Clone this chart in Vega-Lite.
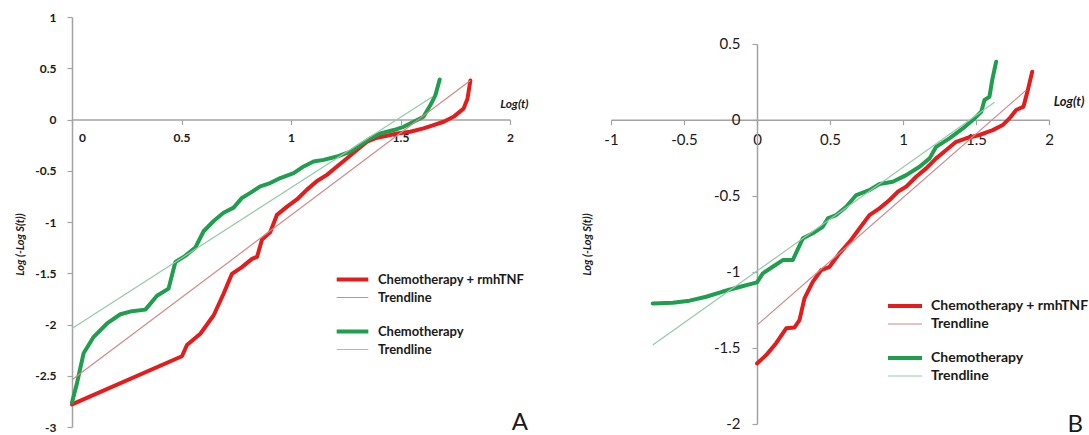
{
  "$schema": "https://vega.github.io/schema/vega-lite/v6.json",
  "padding": {"left": 14, "top": 11, "right": 2, "bottom": 0},
  "bounds": "flush",
  "spacing": 101,
  "resolve": {"scale": {"color": "independent", "x": "independent", "y": "independent"}, "legend": {"color": "independent"}},
  "config": {
    "view": {"stroke": null},
    "font": "Lato",
    "axis": {
      "grid": false,
      "domainColor": "#a3a3a3",
      "tickColor": "#a3a3a3",
      "domainWidth": 1.5,
      "tickWidth": 1.2,
      "tickSize": 5,
      "labelColor": "#1a1a1a",
      "titleColor": "#1a1a1a",
      "labelOverlap": false,
      "labelFlush": false,
      "labelExpr": "'' + datum.value"
    },
    "title": {"color": "#1a1a1a", "font": "Lato"}
  },
  "datasets": {
    "a": [
      {"s": "red", "x": 0, "y": -2.78},
      {"s": "red", "x": 0.502, "y": -2.31},
      {"s": "red", "x": 0.525, "y": -2.2},
      {"s": "red", "x": 0.586, "y": -2.09},
      {"s": "red", "x": 0.647, "y": -1.91},
      {"s": "red", "x": 0.692, "y": -1.7},
      {"s": "red", "x": 0.73, "y": -1.507},
      {"s": "red", "x": 0.776, "y": -1.44},
      {"s": "red", "x": 0.822, "y": -1.36},
      {"s": "red", "x": 0.845, "y": -1.34},
      {"s": "red", "x": 0.868, "y": -1.17},
      {"s": "red", "x": 0.905, "y": -1.1},
      {"s": "red", "x": 0.936, "y": -0.93},
      {"s": "red", "x": 0.982, "y": -0.85},
      {"s": "red", "x": 1.027, "y": -0.78},
      {"s": "red", "x": 1.073, "y": -0.684},
      {"s": "red", "x": 1.119, "y": -0.6},
      {"s": "red", "x": 1.164, "y": -0.54},
      {"s": "red", "x": 1.21, "y": -0.458},
      {"s": "red", "x": 1.256, "y": -0.378},
      {"s": "red", "x": 1.301, "y": -0.297},
      {"s": "red", "x": 1.347, "y": -0.216},
      {"s": "red", "x": 1.393, "y": -0.178},
      {"s": "red", "x": 1.438, "y": -0.158},
      {"s": "red", "x": 1.484, "y": -0.136},
      {"s": "red", "x": 1.545, "y": -0.119},
      {"s": "red", "x": 1.605, "y": -0.087},
      {"s": "red", "x": 1.651, "y": -0.055},
      {"s": "red", "x": 1.697, "y": -0.022},
      {"s": "red", "x": 1.742, "y": 0.026},
      {"s": "red", "x": 1.788, "y": 0.106},
      {"s": "red", "x": 1.806, "y": 0.203},
      {"s": "red", "x": 1.819, "y": 0.38},
      {"s": "green", "x": 0, "y": -2.76},
      {"s": "green", "x": 0.023, "y": -2.57},
      {"s": "green", "x": 0.053, "y": -2.28},
      {"s": "green", "x": 0.099, "y": -2.12},
      {"s": "green", "x": 0.16, "y": -1.99},
      {"s": "green", "x": 0.221, "y": -1.9},
      {"s": "green", "x": 0.274, "y": -1.87},
      {"s": "green", "x": 0.335, "y": -1.855},
      {"s": "green", "x": 0.388, "y": -1.72},
      {"s": "green", "x": 0.441, "y": -1.65},
      {"s": "green", "x": 0.472, "y": -1.39},
      {"s": "green", "x": 0.517, "y": -1.33},
      {"s": "green", "x": 0.563, "y": -1.25},
      {"s": "green", "x": 0.601, "y": -1.09},
      {"s": "green", "x": 0.647, "y": -0.99},
      {"s": "green", "x": 0.692, "y": -0.91},
      {"s": "green", "x": 0.738, "y": -0.86},
      {"s": "green", "x": 0.776, "y": -0.765},
      {"s": "green", "x": 0.814, "y": -0.716},
      {"s": "green", "x": 0.86, "y": -0.652},
      {"s": "green", "x": 0.905, "y": -0.62},
      {"s": "green", "x": 0.951, "y": -0.571},
      {"s": "green", "x": 1.012, "y": -0.523},
      {"s": "green", "x": 1.058, "y": -0.458},
      {"s": "green", "x": 1.103, "y": -0.41},
      {"s": "green", "x": 1.149, "y": -0.394},
      {"s": "green", "x": 1.21, "y": -0.361},
      {"s": "green", "x": 1.271, "y": -0.313},
      {"s": "green", "x": 1.316, "y": -0.249},
      {"s": "green", "x": 1.362, "y": -0.184},
      {"s": "green", "x": 1.408, "y": -0.136},
      {"s": "green", "x": 1.469, "y": -0.103},
      {"s": "green", "x": 1.514, "y": -0.071},
      {"s": "green", "x": 1.56, "y": -0.022},
      {"s": "green", "x": 1.605, "y": 0.026},
      {"s": "green", "x": 1.636, "y": 0.138},
      {"s": "green", "x": 1.659, "y": 0.235},
      {"s": "green", "x": 1.679, "y": 0.39},
      {"s": "redTrend", "x": 0, "y": -2.54},
      {"s": "redTrend", "x": 1.819, "y": 0.38},
      {"s": "greenTrend", "x": 0, "y": -2.04},
      {"s": "greenTrend", "x": 1.644, "y": 0.22}
    ],
    "b": [
      {"s": "red", "x": 0, "y": -1.603},
      {"s": "red", "x": 0.063, "y": -1.548},
      {"s": "red", "x": 0.131, "y": -1.47},
      {"s": "red", "x": 0.2, "y": -1.372},
      {"s": "red", "x": 0.257, "y": -1.366},
      {"s": "red", "x": 0.291, "y": -1.318},
      {"s": "red", "x": 0.325, "y": -1.175},
      {"s": "red", "x": 0.382, "y": -1.066},
      {"s": "red", "x": 0.44, "y": -0.989},
      {"s": "red", "x": 0.497, "y": -0.967},
      {"s": "red", "x": 0.565, "y": -0.879},
      {"s": "red", "x": 0.634, "y": -0.803},
      {"s": "red", "x": 0.702, "y": -0.715},
      {"s": "red", "x": 0.77, "y": -0.627},
      {"s": "red", "x": 0.839, "y": -0.583},
      {"s": "red", "x": 0.908, "y": -0.528},
      {"s": "red", "x": 0.964, "y": -0.474},
      {"s": "red", "x": 1.022, "y": -0.44},
      {"s": "red", "x": 1.09, "y": -0.375},
      {"s": "red", "x": 1.159, "y": -0.32},
      {"s": "red", "x": 1.227, "y": -0.254},
      {"s": "red", "x": 1.296, "y": -0.199},
      {"s": "red", "x": 1.364, "y": -0.145},
      {"s": "red", "x": 1.433, "y": -0.122},
      {"s": "red", "x": 1.524, "y": -0.1},
      {"s": "red", "x": 1.615, "y": -0.068},
      {"s": "red", "x": 1.683, "y": -0.035},
      {"s": "red", "x": 1.729, "y": 0.009},
      {"s": "red", "x": 1.775, "y": 0.064},
      {"s": "red", "x": 1.825, "y": 0.086},
      {"s": "red", "x": 1.855, "y": 0.195},
      {"s": "red", "x": 1.885, "y": 0.316},
      {"s": "green", "x": -0.714, "y": -1.208},
      {"s": "green", "x": -0.577, "y": -1.204},
      {"s": "green", "x": -0.462, "y": -1.19},
      {"s": "green", "x": -0.348, "y": -1.164},
      {"s": "green", "x": -0.234, "y": -1.13},
      {"s": "green", "x": -0.12, "y": -1.1},
      {"s": "green", "x": 0, "y": -1.07},
      {"s": "green", "x": 0.04, "y": -1.01},
      {"s": "green", "x": 0.108, "y": -0.967},
      {"s": "green", "x": 0.177, "y": -0.923},
      {"s": "green", "x": 0.245, "y": -0.923},
      {"s": "green", "x": 0.314, "y": -0.78},
      {"s": "green", "x": 0.382, "y": -0.747},
      {"s": "green", "x": 0.45, "y": -0.704},
      {"s": "green", "x": 0.485, "y": -0.649},
      {"s": "green", "x": 0.542, "y": -0.627},
      {"s": "green", "x": 0.611, "y": -0.572},
      {"s": "green", "x": 0.68, "y": -0.495},
      {"s": "green", "x": 0.77, "y": -0.463},
      {"s": "green", "x": 0.839, "y": -0.423},
      {"s": "green", "x": 0.93, "y": -0.408},
      {"s": "green", "x": 1.022, "y": -0.364},
      {"s": "green", "x": 1.113, "y": -0.309},
      {"s": "green", "x": 1.182, "y": -0.254},
      {"s": "green", "x": 1.227, "y": -0.178},
      {"s": "green", "x": 1.318, "y": -0.122},
      {"s": "green", "x": 1.41, "y": -0.057},
      {"s": "green", "x": 1.478, "y": -0.002},
      {"s": "green", "x": 1.536, "y": 0.053},
      {"s": "green", "x": 1.558, "y": 0.13},
      {"s": "green", "x": 1.592, "y": 0.151},
      {"s": "green", "x": 1.611, "y": 0.261},
      {"s": "green", "x": 1.638, "y": 0.382},
      {"s": "redTrend", "x": 0, "y": -1.351},
      {"s": "redTrend", "x": 1.844, "y": 0.195},
      {"s": "greenTrend", "x": -0.714, "y": -1.482},
      {"s": "greenTrend", "x": 1.627, "y": 0.115}
    ]
  },
  "hconcat": [
    {
      "width": 438,
      "height": 410,
      "title": {"text": "A", "orient": "bottom", "anchor": "end", "frame": "group", "fontSize": 24, "fontWeight": "normal", "offset": -22, "dx": 18},
      "data": {"name": "a"},
      "encoding": {
        "x": {
          "field": "x", "type": "quantitative",
          "scale": {"domain": [0, 2], "nice": false, "zero": false},
          "axis": {
            "orient": "bottom", "offset": -307.5, "values": [0, 0.5, 1, 1.5, 2],
            "labelFontSize": 12, "labelFontWeight": "bold", "labelPadding": 8,
            "labelOffset": {"condition": {"test": "datum.value === 0", "value": 10}, "value": 0},
            "title": "Log(t)", "titleFontSize": 12, "titleFontWeight": "bold", "titleFontStyle": "italic",
            "titleX": 456, "titleY": -16, "titleAlign": "right", "titleBaseline": "middle"
          }
        },
        "y": {
          "field": "y", "type": "quantitative",
          "scale": {"domain": [-3, 1], "nice": false, "zero": false},
          "axis": {
            "values": [-3, -2.5, -2, -1.5, -1, -0.5, 0, 0.5, 1],
            "labelFontSize": 12, "labelFontWeight": "bold", "labelPadding": 11,
            "title": "Log (-Log S(t))", "titleFontSize": 11, "titleFontWeight": "bold", "titleFontStyle": "italic",
            "titleX": -52, "titleY": 227, "titleAngle": -90, "titleAlign": "center", "titleBaseline": "middle"
          }
        },
        "color": {
          "field": "s", "type": "nominal",
          "scale": {
            "domain": ["red", "redTrend", "gap", "green", "greenTrend"],
            "range": ["#e31c1c", "#cf8a8a", "transparent", "#1f9e4d", "#93cba8"]
          },
          "legend": {
            "orient": "none", "legendX": 274, "legendY": 256, "title": null,
            "symbolType": "stroke", "symbolSize": 1000, "rowPadding": 3,
            "labelFontSize": 13, "labelFontWeight": "bold", "labelColor": "#1a1a1a", "labelOffset": 19,
            "labelExpr": "{'red': 'Chemotherapy + rmhTNF', 'redTrend': 'Trendline', 'gap': '', 'green': 'Chemotherapy', 'greenTrend': 'Trendline'}[datum.label]",
            "encode": {
              "symbols": {"update": {"strokeWidth": {"signal": "datum.value == 'red' || datum.value == 'green' ? 4 : 1.2"}}},
              "labels": {"update": {"fontSize": {"signal": "datum.value == 'gap' ? 9 : 13"}}}
            }
          }
        }
      },
      "layer": [
        {
          "transform": [{"filter": "datum.s == 'red' || datum.s == 'green'"}],
          "mark": {"type": "line", "strokeWidth": 4, "strokeJoin": "round", "strokeCap": "round"}
        },
        {
          "transform": [{"filter": "datum.s == 'redTrend' || datum.s == 'greenTrend'"}],
          "mark": {"type": "line", "strokeWidth": 1.2}
        }
      ]
    },
    {
      "width": 438,
      "height": 410,
      "title": {"text": "B", "orient": "bottom", "anchor": "end", "frame": "group", "fontSize": 24, "fontWeight": "normal", "offset": -19, "dx": 34},
      "data": {"name": "b"},
      "layer": [
        {
          "transform": [{"filter": "datum.s == 'red' || datum.s == 'green'"}],
          "mark": {"type": "line", "strokeWidth": 4, "strokeJoin": "round", "strokeCap": "round"}
        },
        {
          "transform": [{"filter": "datum.s == 'redTrend' || datum.s == 'greenTrend'"}],
          "mark": {"type": "line", "strokeWidth": 1.2}
        }
      ],
      "encoding": {
        "x": {
          "field": "x", "type": "quantitative",
          "scale": {"domain": [-1, 2], "nice": false, "zero": false},
          "axis": {
            "orient": "bottom", "offset": -307.3, "values": [-1, -0.5, 0, 0.5, 1, 1.5, 2],
            "labelFontSize": 15, "labelPadding": 8,
            "title": "Log(t)", "titleFontSize": 13, "titleFontWeight": "bold", "titleFontStyle": "italic",
            "titleX": 473, "titleY": -18, "titleAlign": "right", "titleBaseline": "middle"
          }
        },
        "y": {
          "field": "y", "type": "quantitative",
          "scale": {"domain": [-2.021, 0.676], "nice": false, "zero": false},
          "axis": {
            "offset": -146, "values": [-2, -1.5, -1, -0.5, 0, 0.5],
            "domainDash": [380, 1000], "domainDashOffset": -3.2,
            "labelFontSize": 15, "labelPadding": 12,
            "title": "Log (-Log S(t))", "titleFontSize": 11, "titleFontWeight": "bold", "titleFontStyle": "italic",
            "titleX": -170, "titleY": 227, "titleAngle": -90, "titleAlign": "center", "titleBaseline": "middle"
          }
        },
        "color": {
          "field": "s", "type": "nominal",
          "scale": {
            "domain": ["red", "redTrend", "gap", "green", "greenTrend"],
            "range": ["#e31c1c", "#cf8a8a", "transparent", "#1f9e4d", "#93cba8"]
          },
          "legend": {
            "orient": "none", "legendX": 287, "legendY": 282, "title": null,
            "symbolType": "stroke", "symbolSize": 1156, "rowPadding": 3,
            "labelFontSize": 14, "labelFontWeight": "bold", "labelColor": "#1a1a1a", "labelOffset": 19,
            "labelExpr": "{'red': 'Chemotherapy + rmhTNF', 'redTrend': 'Trendline', 'gap': '', 'green': 'Chemotherapy', 'greenTrend': 'Trendline'}[datum.label]",
            "encode": {
              "symbols": {"update": {"strokeWidth": {"signal": "datum.value == 'red' || datum.value == 'green' ? 4 : 1.2"}}},
              "labels": {"update": {"fontSize": {"signal": "datum.value == 'gap' ? 12 : 14"}}}
            }
          }
        }
      }
    }
  ]
}
